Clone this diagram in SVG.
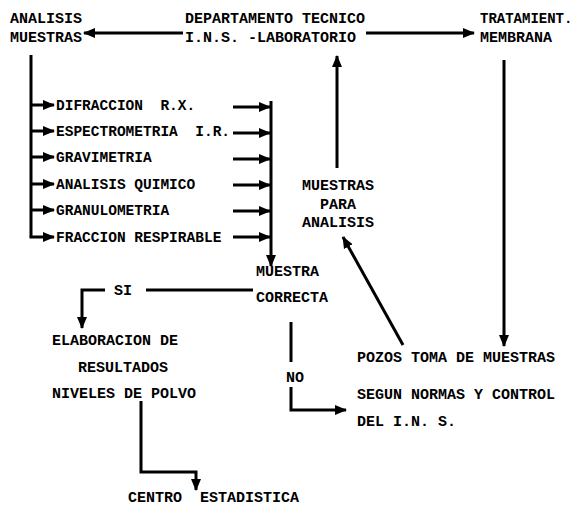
<svg xmlns="http://www.w3.org/2000/svg" width="576" height="508" viewBox="0 0 576 508">
<style>
text{font-family:"Liberation Mono","DejaVu Sans Mono",monospace;font-weight:bold;font-size:15px;fill:#000;white-space:pre}
.s{font-size:14.5px}
.t{font-size:14px}
.c line,.c polyline{stroke:#000;stroke-width:3;fill:none}
</style>
<defs>
<marker id="a" markerUnits="userSpaceOnUse" markerWidth="12" markerHeight="12" viewBox="0 0 12 12" refX="11" refY="6" orient="auto">
<path d="M0,1 L12,6 L0,11 Z" fill="#000"/>
</marker>
</defs>
<rect width="576" height="508" fill="#fff"/>
<g class="c" id="connectors">
<line x1="183" y1="33" x2="84" y2="33" marker-end="url(#a)"/>
<line x1="366" y1="33" x2="474" y2="33" marker-end="url(#a)"/>
<line x1="337" y1="168" x2="337" y2="56" marker-end="url(#a)"/>
<line x1="504" y1="60" x2="504" y2="346" marker-end="url(#a)"/>
<line x1="403" y1="345" x2="343" y2="237" marker-end="url(#a)"/>
<line x1="31" y1="55" x2="31" y2="237"/>
<line x1="31" y1="105" x2="54" y2="105" marker-end="url(#a)"/>
<line x1="31" y1="131" x2="54" y2="131" marker-end="url(#a)"/>
<line x1="31" y1="157" x2="54" y2="157" marker-end="url(#a)"/>
<line x1="31" y1="184" x2="54" y2="184" marker-end="url(#a)"/>
<line x1="31" y1="210" x2="54" y2="210" marker-end="url(#a)"/>
<polyline points="31,236 31,237 54,237" marker-end="url(#a)"/>
<line x1="233" y1="107" x2="270" y2="107" marker-end="url(#a)"/>
<line x1="233" y1="133" x2="270" y2="133" marker-end="url(#a)"/>
<line x1="233" y1="159" x2="270" y2="159" marker-end="url(#a)"/>
<line x1="233" y1="185" x2="270" y2="185" marker-end="url(#a)"/>
<line x1="233" y1="211" x2="270" y2="211" marker-end="url(#a)"/>
<line x1="233" y1="237" x2="270" y2="237" marker-end="url(#a)"/>
<line x1="271" y1="101" x2="271" y2="266" marker-end="url(#a)"/>
<line x1="253" y1="290" x2="146" y2="290"/>
<polyline points="105,290 82,290 82,328" marker-end="url(#a)"/>
<line x1="291" y1="322" x2="291" y2="362"/>
<polyline points="291,387 291,410 346,410" marker-end="url(#a)"/>
<polyline points="141,401 141,472 196,472 196,490" marker-end="url(#a)"/>
</g>
<g id="analisis-muestras"><text x="10" y="23">ANALISIS</text><text x="10" y="42">MUESTRAS</text></g>
<g id="departamento"><text x="185" y="23">DEPARTAMENTO TECNICO</text><text x="185" y="42">I.N.S. -LABORATORIO</text></g>
<g id="tratamiento"><text class="t" x="480" y="23">TRATAMIENT.</text><text x="480" y="42">MEMBRANA</text></g>
<g id="difraccion"><text class="s" x="56" y="110" xml:space="preserve">DIFRACCION  R.X.</text></g>
<g id="espectrometria"><text class="s" x="56" y="136" xml:space="preserve">ESPECTROMETRIA  I.R.</text></g>
<g id="gravimetria"><text class="s" x="56" y="162">GRAVIMETRIA</text></g>
<g id="analisis-quimico"><text class="s" x="56" y="189">ANALISIS QUIMICO</text></g>
<g id="granulometria"><text class="s" x="56" y="215">GRANULOMETRIA</text></g>
<g id="fraccion"><text class="s" x="56" y="242">FRACCION RESPIRABLE</text></g>
<g id="muestras-para-analisis"><text x="338" y="190" text-anchor="middle">MUESTRAS</text><text x="338" y="209" text-anchor="middle">PARA</text><text x="338" y="227" text-anchor="middle">ANALISIS</text></g>
<g id="muestra-correcta"><text x="256" y="276">MUESTRA</text><text x="256" y="302">CORRECTA</text></g>
<g id="si"><text x="114" y="295">SI</text></g>
<g id="no"><text x="286" y="382">NO</text></g>
<g id="elaboracion"><text x="52" y="345">ELABORACION DE</text><text x="78" y="372">RESULTADOS</text><text x="52" y="398">NIVELES DE POLVO</text></g>
<g id="pozos"><text x="357" y="362">POZOS TOMA DE MUESTRAS</text><text x="357" y="399">SEGUN NORMAS Y CONTROL</text><text x="357" y="426">DEL I.N. S.</text></g>
<g id="centro"><text x="128" y="502" xml:space="preserve">CENTRO  ESTADISTICA</text></g>
</svg>
